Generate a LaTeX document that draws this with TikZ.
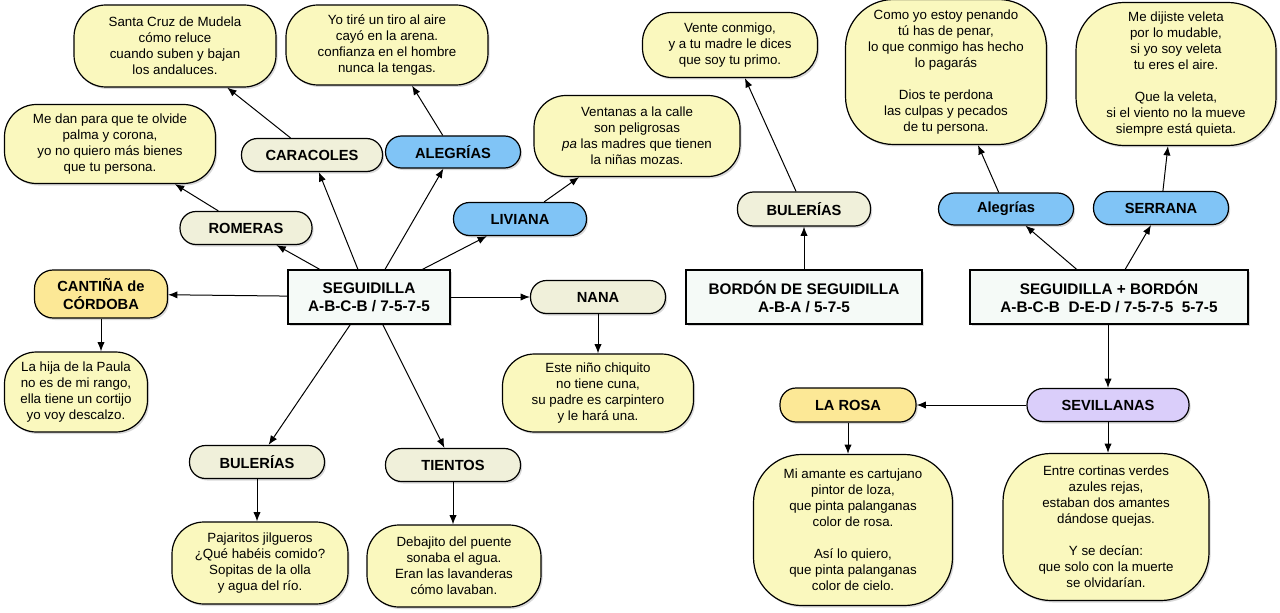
\documentclass[tikz,border=0pt]{standalone}
\usepackage{fontspec}
\setmainfont{Liberation Sans}
\usetikzlibrary{arrows.meta,shadows}

\definecolor{versefill}{RGB}{250,248,190}
\definecolor{palefill}{RGB}{240,240,218}
\definecolor{bluefill}{RGB}{128,196,246}
\definecolor{goldfill}{RGB}{252,232,150}
\definecolor{lilacfill}{RGB}{218,206,250}
\definecolor{boxfill}{RGB}{245,250,247}

\tikzset{
  verse/.style={draw, line width=0.9pt, fill=versefill, rounded corners=24pt,
    align=center, font=\fontsize{10}{12}\selectfont, inner sep=2pt,
    drop shadow={shadow xshift=1.2pt, shadow yshift=-1.5pt, opacity=0.3}},
  tallverse/.style={verse, rounded corners=36pt},
  concept/.style={draw, line width=0.9pt, fill=palefill, rounded corners=12pt,
    minimum width=101.25pt, minimum height=24.75pt, align=center,
    font=\fontsize{11}{13}\selectfont\bfseries, inner sep=2pt,
    drop shadow={shadow xshift=1.2pt, shadow yshift=-1.5pt, opacity=0.3}},
  esquema/.style={draw, line width=0.9pt, fill=boxfill, minimum height=40.5pt,
    align=center, font=\fontsize{11.5}{13.5}\selectfont\bfseries,
    drop shadow={shadow xshift=1.2pt, shadow yshift=-1.5pt, opacity=0.3}},
  flecha/.style={line width=0.75pt, -{Latex[length=7pt,width=5.5pt]}}
}

\begin{document}
\begin{tikzpicture}[x=0.75pt,y=-0.75pt]
  \useasboundingbox (0,0) rectangle (1280,613);

  % Seguidilla
  \node[esquema, minimum width=121.5pt] (seg) at (369,297) {SEGUIDILLA\\A-B-C-B / 7-5-7-5};
  \node[concept, fill=goldfill, minimum width=99.75pt, minimum height=36pt, rounded corners=14pt] (cantina) at (101,294) {CANTIÑA de\\CÓRDOBA};
  \node[concept, minimum width=99pt] (romeras) at (246,228) {ROMERAS};
  \node[concept, minimum width=105.75pt] (caracoles) at (312,155) {CARACOLES};
  \node[concept, fill=bluefill, minimum height=24pt] (alegrias) at (453,152) {ALEGRÍAS};
  \node[concept, fill=bluefill, minimum width=99.75pt] (liviana) at (520,219) {LIVIANA};
  \node[concept] (nana) at (598,297) {NANA};
  \node[concept] (bulerias) at (257,462) {BULERÍAS};
  \node[concept] (tientos) at (453,465) {TIENTOS};

  \node[verse, minimum width=151.5pt, minimum height=61.5pt] (santacruz) at (175,46)
    {Santa Cruz de Mudela\\cómo reluce\\cuando suben y bajan\\los andaluces.};
  \node[verse, minimum width=151.5pt, minimum height=60pt] (tiro) at (387,45)
    {Yo tiré un tiro al aire\\cayó en la arena.\\confianza en el hombre\\nunca la tengas.};
  \node[verse, minimum width=158.25pt, minimum height=59.25pt] (palma) at (110,144)
    {Me dan para que te olvide\\palma y corona,\\yo no quiero más bienes\\que tu persona.};
  \node[verse, minimum width=154.5pt, minimum height=60.75pt] (ventanas) at (637,136)
    {Ventanas a la calle\\son peligrosas\\\textit{pa} las madres que tienen\\la niñas mozas.};
  \node[verse, minimum width=107.25pt, minimum height=60pt] (paula) at (76,392)
    {La hija de la Paula\\no es de mi rango,\\ella tiene un cortijo\\yo voy descalzo.};
  \node[verse, minimum width=143.25pt, minimum height=58.5pt] (chiquito) at (598,393)
    {Este niño chiquito\\no tiene cuna,\\su padre es carpintero\\y le hará una.};
  \node[verse, minimum width=132pt, minimum height=61.5pt] (jilgueros) at (260,563)
    {Pajaritos jilgueros\\¿Qué habéis comido?\\Sopitas de la olla\\y agua del río.};
  \node[verse, minimum width=130.5pt, minimum height=61.5pt] (puente) at (454,566)
    {Debajito del puente\\sonaba el agua.\\Eran las lavanderas\\cómo lavaban.};

  % Bordon de seguidilla
  \node[esquema, minimum width=177pt] (bordon) at (804,297) {BORDÓN DE SEGUIDILLA\\A-B-A / 5-7-5};
  \node[concept, minimum width=99.75pt, minimum height=25.5pt] (buleriasb) at (804,209) {BULERÍAS};
  \node[verse, minimum width=131.25pt, minimum height=48.75pt, rounded corners=22pt] (primo) at (730,45)
    {Vente conmigo,\\y a tu madre le dices\\que soy tu primo.};

  % Seguidilla + bordon
  \node[esquema, minimum width=208.5pt] (segbor) at (1109,297) {SEGUIDILLA + BORDÓN\\A-B-C-B~~D-E-D / 7-5-7-5~~5-7-5};
  \node[concept, fill=bluefill, minimum height=24pt] (alegriasb) at (1006,209) {Alegrías};
  \node[concept, fill=bluefill] (serrana) at (1161,208) {SERRANA};
  \node[concept, fill=lilacfill, minimum width=121.5pt] (sevillanas) at (1108,405) {SEVILLANAS};
  \node[concept, fill=goldfill, minimum width=102pt, minimum height=25.5pt] (larosa) at (848,405) {LA ROSA};

  \node[tallverse, minimum width=150.75pt, minimum height=108.75pt] (penando) at (946,72)
    {Como yo estoy penando\\tú has de penar,\\lo que conmigo has hecho\\lo pagarás\\[12pt]Dios te perdona\\las culpas y pecados\\de tu persona.};
  \node[tallverse, minimum width=150pt, minimum height=107.25pt] (veleta) at (1176,74)
    {Me dijiste veleta\\por lo mudable,\\si yo soy veleta\\tu eres el aire.\\[12pt]Que la veleta,\\si el viento no la mueve\\siempre está quieta.};
  \node[tallverse, minimum width=149.25pt, minimum height=113.25pt] (cartujano) at (853,530)
    {Mi amante es cartujano\\pintor de loza,\\que pinta palanganas\\color de rosa.\\[12pt]Así lo quiero,\\que pinta palanganas\\color de cielo.};
  \node[tallverse, minimum width=154.5pt, minimum height=110.25pt] (cortinas) at (1106,527)
    {Entre cortinas verdes\\azules rejas,\\estaban dos amantes\\dándose quejas.\\[12pt]Y se decían:\\que solo con la muerte\\se olvidarían.};

  % Connectors
  \draw[flecha] (seg) -- (cantina);
  \draw[flecha] (seg) -- (romeras);
  \draw[flecha] (seg) -- (caracoles);
  \draw[flecha] (seg) -- (alegrias);
  \draw[flecha] (seg) -- (liviana);
  \draw[flecha] (seg) -- (nana);
  \draw[flecha] (seg) -- (bulerias);
  \draw[flecha] (seg) -- (tientos);
  \draw[flecha] (caracoles) -- (santacruz);
  \draw[flecha] (alegrias) -- (tiro);
  \draw[flecha] (romeras) -- (palma);
  \draw[flecha] (liviana) -- (ventanas);
  \draw[flecha] (cantina.south) -- (cantina.south |- paula.north);
  \draw[flecha] (nana) -- (chiquito);
  \draw[flecha] (bulerias.south) -- (bulerias.south |- jilgueros.north);
  \draw[flecha] (tientos.south) -- (tientos.south |- puente.north);

  \draw[flecha] (bordon) -- (buleriasb);
  \draw[flecha] (buleriasb) -- (primo);

  \draw[flecha] (segbor) -- (alegriasb);
  \draw[flecha] (segbor) -- (serrana);
  \draw[flecha] (alegriasb) -- (penando);
  \draw[flecha] (serrana) -- (veleta);
  \draw[flecha] (segbor.south -| sevillanas) -- (sevillanas);
  \draw[flecha] (sevillanas) -- (larosa);
  \draw[flecha] (sevillanas.south) -- (sevillanas.south |- cortinas.north);
  \draw[flecha] (larosa.south) -- (larosa.south |- cartujano.north);
\end{tikzpicture}
\end{document}
